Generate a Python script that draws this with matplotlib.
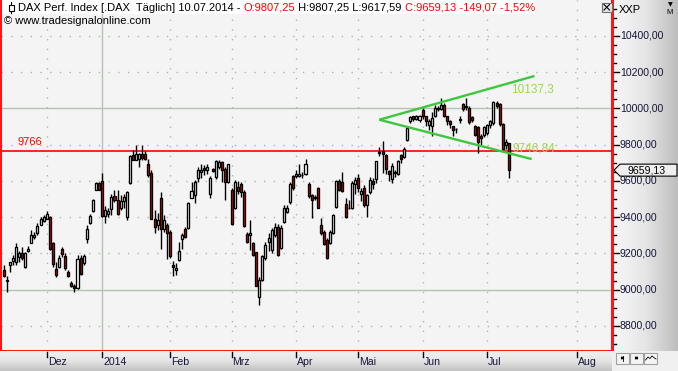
import matplotlib
matplotlib.use("Agg")
import matplotlib.pyplot as plt
from matplotlib.patches import Rectangle, Polygon
from matplotlib.colors import LinearSegmentedColormap
import numpy as np

# ---------------- data ----------------
opens = [9108, 9048, 9138, 9158, 9154, 9182, 9204, 9123, 9215, 9258, 9288, 9310, 9359, 9380,
         9392, 9402, 9255, 9112, 9127, 9227, 9185, 9097, 9039, 9020, 9008, 9172, 9145, 9282, 9369, 9435, 9552, 9588,
         9598, 9405, 9420, 9447, 9517, 9493, 9450, 9490, 9400, 9588, 9744, 9717, 9722, 9750, 9750, 9691, 9643, 9392, 9356, 9506, 9337, 9356,
         9319, 9136, 9110, 9165, 9278, 9333, 9338, 9508, 9521, 9618, 9649, 9671, 9658, 9527, 9667, 9621, 9676, 9704, 9667, 9594,
         9552, 9453, 9567, 9581, 9539, 9306, 9302, 9260, 9207, 8960, 9055, 9174, 9265, 9220, 9302, 9347, 9229, 9375, 9430, 9485, 9625,
         9625, 9625, 9635, 9636, 9585, 9521, 9508, 9558, 9357, 9320, 9274, 9256, 9311, 9457, 9600, 9594, 9475, 9448, 9450, 9580,
         9617, 9526, 9560, 9467, 9540, 9599, 9608, 9760, 9765, 9745, 9654, 9608, 9650, 9639, 9742, 9731, 9827, 9928, 9955, 9942, 9937,
         9992, 9955, 9910, 9905, 9955, 10001, 9997, 10019, 9955, 9928, 9900, 9885, 9935, 10023, 10012, 10001, 9950, 9900, 9895, 9846, 9855,
         9864, 9910, 9919, 10028, 10023, 9913, 9796, 9807.25]
highs = [9136, 9078, 9152, 9190, 9255, 9215, 9237, 9209, 9240, 9328, 9319, 9365, 9398, 9411,
         9433, 9405, 9264, 9154, 9191, 9233, 9200, 9108, 9048, 9031, 9191, 9191, 9196, 9356, 9416, 9502, 9594, 9594,
         9643, 9460, 9453, 9526, 9548, 9552, 9521, 9526, 9545, 9741, 9772, 9796, 9753, 9796, 9764, 9722, 9658, 9438, 9424, 9539, 9411, 9365,
         9328, 9160, 9147, 9265, 9311, 9344, 9485, 9594, 9603, 9676, 9691, 9685, 9695, 9625, 9671, 9716, 9713, 9709, 9676, 9695,
         9558, 9603, 9600, 9594, 9552, 9320, 9384, 9265, 9210, 9070, 9192, 9265, 9311, 9338, 9366, 9362, 9357, 9466, 9466, 9594, 9631,
         9658, 9695, 9650, 9722, 9594, 9527, 9521, 9567, 9393, 9329, 9284, 9329, 9417, 9607, 9612, 9649, 9503, 9497, 9600, 9620,
         9640, 9560, 9575, 9530, 9620, 9615, 9712, 9785, 9818, 9750, 9660, 9700, 9660, 9715, 9750, 9785, 9900, 9955, 9960, 9965, 9962,
         10000, 9960, 9940, 9980, 10020, 10012, 10059, 10030, 9960, 9935, 9905, 9891, 9955, 10030, 10059, 10010, 9955, 9910, 9900, 9860, 9905,
         9915, 9935, 10040, 10040, 10030, 9920, 9830, 9807.25]
lows = [9068, 8988, 9100, 9136, 9136, 9155, 9163, 9118, 9210, 9255, 9282, 9301, 9356, 9374,
        9387, 9218, 9127, 9072, 9118, 9182, 9108, 9068, 9017, 8985, 9002, 9081, 9136, 9259, 9361, 9429, 9548, 9548,
        9398, 9369, 9398, 9410, 9484, 9411, 9440, 9453, 9383, 9585, 9713, 9713, 9676, 9713, 9713, 9621, 9387, 9310, 9328, 9222, 9319, 9167,
        9172, 9075, 9083, 9156, 9223, 9284, 9333, 9503, 9479, 9594, 9618, 9631, 9640, 9503, 9649, 9612, 9667, 9594, 9497, 9589,
        9357, 9443, 9530, 9512, 9344, 9256, 9220, 9187, 9019, 8918, 9046, 9165, 9211, 9205, 9293, 9183, 9223, 9366, 9421, 9475, 9548,
        9618, 9621, 9615, 9631, 9508, 9393, 9494, 9448, 9302, 9247, 9169, 9253, 9307, 9453, 9545, 9539, 9393, 9443, 9445, 9530,
        9540, 9490, 9455, 9400, 9530, 9555, 9590, 9735, 9645, 9640, 9600, 9590, 9620, 9630, 9700, 9725, 9820, 9919, 9930, 9935, 9925,
        9940, 9900, 9880, 9846, 9950, 9985, 9990, 9950, 9910, 9890, 9850, 9864, 9920, 9985, 9990, 9915, 9925, 9850, 9754, 9800, 9840,
        9855, 9890, 9910, 10000, 9905, 9770, 9775, 9617.59]
closes = [9075, 9054, 9150, 9176, 9233, 9200, 9176, 9200, 9227, 9299, 9304, 9352, 9387, 9402,
          9420, 9224, 9140, 9081, 9176, 9196, 9118, 9077, 9020, 9008, 9167, 9086, 9187, 9337, 9405, 9493, 9588, 9552,
          9405, 9438, 9433, 9512, 9493, 9420, 9490, 9512, 9541, 9735, 9717, 9746, 9746, 9728, 9722, 9631, 9392, 9347, 9383, 9337, 9383, 9310,
          9187, 9127, 9122, 9211, 9302, 9293, 9479, 9545, 9594, 9662, 9662, 9662, 9676, 9618, 9654, 9709, 9704, 9658, 9594, 9691,
          9362, 9594, 9545, 9539, 9351, 9265, 9311, 9192, 9022, 9055, 9183, 9247, 9284, 9329, 9347, 9192, 9338, 9448, 9453, 9585, 9558,
          9640, 9640, 9632, 9695, 9516, 9494, 9508, 9453, 9315, 9253, 9174, 9320, 9411, 9600, 9548, 9545, 9402, 9453, 9590, 9603,
          9563, 9544, 9467, 9521, 9607, 9584, 9709, 9755, 9750, 9663, 9636, 9681, 9645, 9709, 9723, 9778, 9891, 9950, 9942, 9955, 9955,
          9955, 9928, 9931, 9946, 10001, 9995, 10019, 9955, 9928, 9913, 9883, 9888, 9940, 9997, 10008, 9924, 9937, 9855, 9815, 9837, 9895,
          9910, 9928, 10034, 10015, 9913, 9778, 9814, 9659.13]

month_labels = ["Dez", "2014", "Feb", "Mrz", "Apr", "Mai", "Jun", "Jul", "Aug"]
month_pos = [14, 32, 54, 74, 95, 115, 136, 157, 186.2]   # bar index of month start

price_ticks = [8800, 9000, 9200, 9400, 9600, 9800, 10000, 10200, 10400]
support_level = 9766
last_close = 9659.13

# triangle trend lines (bar index, price)
upper_line_x = [121.95, 172.3]
upper_line_y = [9937, 10178]
lower_line_x = [121.95, 171.4]
lower_line_y = [9937, 9720]
label_upper = "10137,3"
label_lower = "9746,84"

header_segments = [("DAX Perf. Index [.DAX  Täglich] 10.07.2014 - ", "#000000"),
                   ("O:9807,25", "#ff0000"),
                   (" H:9807,25 L:9617,59 ", "#000000"),
                   ("C:9659,13 -149,07 -1,52%", "#ff0000")]
copyright_text = "© www.tradesignalonline.com"

# ---------------- figure ----------------
W, H = 678, 371
fig = plt.figure(figsize=(W / 100, H / 100), dpi=100)
fig.patch.set_facecolor("#f4f4f4")
FONT = "Liberation Sans"
RED = "#ff0000"
NAVY = "#15153a"


def px_axes(x0, y0, x1, y1):
    return fig.add_axes([x0 / W, 1 - y1 / H, (x1 - x0) / W, (y1 - y0) / H])


YMIN, YMAX = 8662, 10597
XMIN, XMAX = -0.834, 197.48

ax = px_axes(1, 0, 612, 351)
ax.set_facecolor("#f4f4f4")
ax.set_xlim(XMIN, XMAX)
ax.set_ylim(YMIN, YMAX)
ax.set_xticks([])
ax.set_yticks([])
for s in ["left", "right", "bottom"]:
    ax.spines[s].set_color(RED)
    ax.spines[s].set_linewidth(1.3)
ax.spines["top"].set_visible(False)

# grid
for v in price_ticks:
    if v in (9000, 10000):
        ax.axhline(v, color="#b3c2b3", lw=1.0, zorder=1)
    else:
        ax.axhline(v, color="#aab6aa", lw=1.0, ls=(0, (1, 6)), zorder=1)
for lab, p in zip(month_labels, month_pos):
    if lab == "2014":
        ax.axvline(p, color="#b3c2b3", lw=1.0, zorder=1)
    else:
        ax.axvline(p, color="#aab6aa", lw=1.0, ls=(0, (1, 6)), zorder=1)

# support line
ax.axhline(support_level, color=RED, lw=1.2, zorder=2)
ax.text(4.6, support_level + 18, f"{support_level}", color=RED, fontsize=8,
        family=FONT, va="bottom", ha="left", zorder=6)

# candles
for i, (o, h, l, c) in enumerate(zip(opens, highs, lows, closes)):
    ax.vlines(i, l, h, color="black", lw=1.0, zorder=3)
    bottom = min(o, c)
    height = max(abs(c - o), 2.0)
    fc = "#e60000" if c < o else "white"
    ax.add_patch(Rectangle((i - 0.33, bottom), 0.66, height, facecolor=fc,
                           edgecolor="black", lw=0.95, zorder=4))

# trend lines
ax.plot(upper_line_x, upper_line_y, color="#3cc83c", lw=1.7, zorder=5, solid_capstyle="butt")
ax.plot(lower_line_x, lower_line_y, color="#3cc83c", lw=1.7, zorder=5, solid_capstyle="butt")
ax.text(164.6, 10103, label_upper, color="#9ad84a", fontsize=8.5, family=FONT,
        va="center", ha="left", zorder=6)
ax.text(165.3, 9779, label_lower, color="#9ad84a", fontsize=8.5, family=FONT,
        va="center", ha="left", zorder=6)

# ---------------- right price panel ----------------
rp = px_axes(612, 0, 678, 351)
rp.set_xlim(612, 678)
rp.set_ylim(YMIN, YMAX)
rp.axis("off")
grad_h = np.linspace(0, 1, 128).reshape(1, -1)
cm_h = LinearSegmentedColormap.from_list("g", ["#f7f7f7", "#e6e6e6", "#bdbdbd"])
rp.imshow(grad_h, cmap=cm_h, aspect="auto", extent=[612, 678, YMIN, YMAX], zorder=0)
rp.axvline(613, color=RED, lw=1.3, zorder=1)
for v in range(8700, 10600, 50):
    if v % 200 == 0:
        rp.plot([613.5, 619], [v, v], color="black", lw=1.0, zorder=2)
    else:
        rp.plot([613.5, 616], [v, v], color="black", lw=1.0, zorder=2)
for v in price_ticks:
    rp.text(620, v, f"{v:.2f}".replace(".", ","), color=NAVY, fontsize=7.6,
            family=FONT, va="center", ha="left", zorder=3)

# last price box
hh = 6 / 0.18144
box = Polygon([(614, last_close), (620, last_close + hh), (677, last_close + hh),
               (677, last_close - hh), (620, last_close - hh)], closed=True,
              facecolor="#eeeeee", edgecolor="black", lw=0.8, zorder=4)
rp.add_patch(box)
rp.text(647, last_close, f"{last_close:.2f}".replace(".", ","), color="black",
        fontsize=7.6, family=FONT, va="center", ha="center", zorder=5)

fig.text(619 / W, 1 - 10 / H, "XXP", color="black", fontsize=8, family=FONT,
         va="center", ha="left")
fig.text(670 / W, 1 - 5 / H, "▼", color="black", fontsize=4.5, family="DejaVu Sans",
         va="center", ha="center")
fig.text(670 / W, 1 - 13 / H, "M", color="black", fontsize=5.5, family=FONT,
         va="center", ha="center")

# ---------------- bottom date panel ----------------
bp = px_axes(0, 351, 612, 371)
bp.set_xlim(-1.159, 197.48)
bp.set_ylim(20, 0)
bp.axis("off")
grad_v = np.linspace(0, 1, 64).reshape(-1, 1)
cm_v = LinearSegmentedColormap.from_list("v", ["#f2f2f2", "#e4e4e4", "#c2c2c2"])
bp.imshow(grad_v, cmap=cm_v, aspect="auto", extent=[-1.159, 197.48, 20, 0], zorder=0)
for lab, p in zip(month_labels, month_pos):
    bp.plot([p, p], [0.5, 5.5], color="black", lw=1.0, zorder=2)
    bp.text(p + 0.3, 11, lab, color=NAVY, fontsize=7.6, family=FONT,
            va="center", ha="left", zorder=3)

# bottom-right corner with buttons
cp = px_axes(612, 351, 678, 371)
cp.set_xlim(612, 678)
cp.set_ylim(371, 351)
cp.axis("off")
cp.add_patch(Rectangle((612, 351), 66, 20, facecolor="#f0f0f0", edgecolor="none"))
for bx in (616, 630, 644):
    cp.add_patch(Rectangle((bx, 353), 13, 10.5, facecolor="#f4f4f4",
                           edgecolor="#a0a0a0", lw=0.8))
cp.annotate("", xy=(617.5, 358), xytext=(627.5, 358),
            arrowprops=dict(arrowstyle="<|-|>", lw=0.6, color="black",
                            mutation_scale=4))
cp.plot([622.5, 622.5], [355.5, 360.5], color="black", lw=0.6)
cp.annotate("", xy=(631.5, 358), xytext=(641.5, 358),
            arrowprops=dict(arrowstyle="<|-|>", lw=0.6, color="black",
                            mutation_scale=4))
cp.plot([645.5, 648, 650, 652, 654.5, 656], [360, 357, 358.5, 356, 358, 359],
        color="black", lw=0.6)

# ---------------- header ----------------
fig.add_artist(Rectangle((2 / W, 1 - 14 / H), 533 / W, 14 / H, transform=fig.transFigure,
                         facecolor="white", edgecolor="none", zorder=1))
# small candle icon
fig.add_artist(plt.Line2D([11 / W, 11 / W], [1 - 2 / H, 1 - 13 / H], transform=fig.transFigure,
                          color="black", lw=0.8, zorder=2))
fig.add_artist(Rectangle((8.5 / W, 1 - 10.5 / H), 5 / W, 5 / H, transform=fig.transFigure,
                         facecolor="white", edgecolor="black", lw=0.8, zorder=3))
# close button
fig.add_artist(Rectangle((602 / W, 1 - 12 / H), 9.5 / W, 9.5 / H, transform=fig.transFigure,
                         facecolor="#e6e6e6", edgecolor="#707070", lw=0.8, zorder=2))
fig.add_artist(plt.Line2D([604 / W, 609.5 / W], [1 - 4.5 / H, 1 - 10 / H],
                          transform=fig.transFigure, color="black", lw=0.8, zorder=3))
fig.add_artist(plt.Line2D([604 / W, 609.5 / W], [1 - 10 / H, 1 - 4.5 / H],
                          transform=fig.transFigure, color="black", lw=0.8, zorder=3))

renderer = fig.canvas.get_renderer()
xcur = 18.0
for s, col in header_segments:
    t = fig.text(xcur / W, 1 - 8 / H, s, color=col, fontsize=8, family=FONT,
                 va="center", ha="left", zorder=4)
    bb = t.get_window_extent(renderer=renderer)
    xcur += bb.width
fig.text(4 / W, 1 - 21 / H, copyright_text, color="black", fontsize=8, family=FONT,
         va="center", ha="left", zorder=4)

fig.savefig("out.png", dpi=100, facecolor=fig.get_facecolor())
